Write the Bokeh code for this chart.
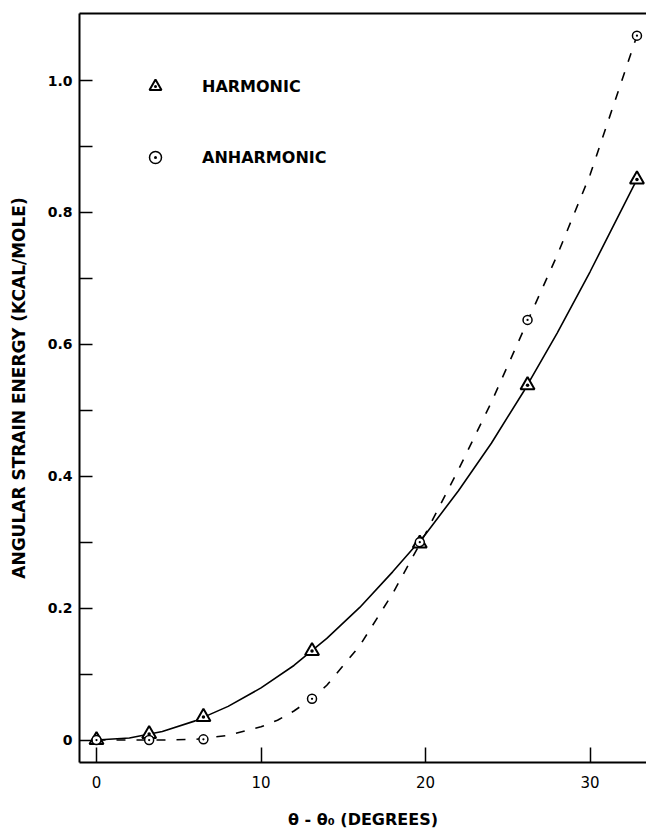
from bokeh.plotting import figure
from bokeh.models import FixedTicker, LinearAxis, Range1d, Legend, LegendItem
from bokeh.embed import file_html
from bokeh.resources import INLINE

# ---- data ----
theta = [0.0, 3.2, 6.5, 13.1, 19.65, 26.2, 32.85]
harmonic = [0.0, 0.009, 0.035, 0.135, 0.298, 0.538, 0.85]
anharmonic = [0.0, 0.0, 0.001, 0.0625, 0.30, 0.637, 1.068]

# smooth drawn curves
harm_curve_x = [0.0, 2.0, 4.0, 6.0, 8.0, 10.0, 12.0, 14.0, 16.0, 18.0, 20.0, 22.0,
                24.0, 26.0, 28.0, 30.0, 32.85]
harm_curve_y = [0.0, 0.003, 0.013, 0.029, 0.051, 0.079, 0.113, 0.154, 0.201, 0.255,
                0.312, 0.378, 0.45, 0.53, 0.617, 0.71, 0.85]
anh_curve_x = [0.0, 2.0, 4.0, 6.0, 8.0, 10.0, 11.0, 12.0, 13.1, 14.0, 16.0, 18.0, 20.0,
               22.0, 24.0, 26.2, 28.0, 30.0, 32.85]
anh_curve_y = [0.0, 0.0, 0.0, 0.001, 0.007, 0.02, 0.03, 0.044, 0.063, 0.083, 0.143, 0.222,
               0.313, 0.41, 0.512, 0.635, 0.735, 0.857, 1.068]

x_ticks = [0, 10, 20, 30]
y_major_ticks = [0, 0.2, 0.4, 0.6, 0.8, 1.0]
y_minor_ticks = [0.1, 0.3, 0.5, 0.7, 0.9]
y_tick_labels = ["0", "0.2", "0.4", "0.6", "0.8", "1.0"]

series_names = ["HARMONIC", "ANHARMONIC"]
x_title = "\u03b8 - \u03b8\u2080 (DEGREES)"
y_title = "ANGULAR STRAIN ENERGY (KCAL/MOLE)"

FONT = "DejaVu Sans"

p = figure(width=646, height=834,
           x_range=Range1d(-1.033, 33.43), y_range=Range1d(-0.0341, 1.1016),
           output_backend="svg", toolbar_location=None,
           min_border_left=79, min_border_right=0, min_border_top=13, min_border_bottom=72)
p.xgrid.visible = False
p.ygrid.visible = False
p.outline_line_color = None
p.background_fill_color = "white"
p.border_fill_color = "white"

xa = p.xaxis[0]
xa.ticker = FixedTicker(ticks=x_ticks)
xa.major_tick_in = 15
xa.major_tick_out = 0
xa.minor_tick_in = 0
xa.minor_tick_out = 0
xa.axis_line_width = 2
xa.major_tick_line_width = 1.5
xa.major_label_standoff = 13
xa.major_label_text_font = FONT
xa.major_label_text_font_size = "15px"
xa.major_label_text_color = "black"
xa.axis_line_color = "black"
xa.axis_label = x_title
xa.axis_label_standoff = 19
xa.axis_label_text_font = FONT
xa.axis_label_text_font_style = "bold"
xa.axis_label_text_font_size = "16px"
xa.axis_label_text_color = "black"

ya = p.yaxis[0]
ya.ticker = FixedTicker(ticks=y_major_ticks, minor_ticks=y_minor_ticks)
ya.major_tick_in = 13
ya.major_tick_out = 0
ya.minor_tick_in = 13
ya.minor_tick_out = 0
ya.axis_line_width = 2
ya.major_tick_line_width = 1.5
ya.minor_tick_line_width = 1.5
ya.minor_tick_line_color = "black"
ya.major_label_standoff = 7
ya.major_label_overrides = dict(zip(y_major_ticks, y_tick_labels))
ya.major_label_text_font = FONT
ya.major_label_text_font_style = "bold"
ya.major_label_text_font_size = "14px"
ya.major_label_text_color = "black"
ya.axis_label = y_title
ya.axis_label_standoff = 16
ya.axis_label_text_font = FONT
ya.axis_label_text_font_style = "bold"
ya.axis_label_text_font_size = "17px"
ya.axis_label_text_color = "black"

top = LinearAxis(ticker=FixedTicker(ticks=[]), major_label_text_font_size="0px",
                 major_tick_in=0, major_tick_out=0, minor_tick_in=0, minor_tick_out=0,
                 axis_line_width=2, major_label_standoff=0)
p.add_layout(top, "above")

p.line(harm_curve_x, harm_curve_y, line_width=1.6, line_color="black")
p.line(anh_curve_x, anh_curve_y, line_width=1.6, line_color="black", line_dash="9 11")

r1 = p.scatter(theta, harmonic, marker="triangle_dot", size=14, line_width=2,
               line_color="black", fill_color="white")
r2 = p.scatter(theta, anharmonic, marker="circle_dot", size=9, line_width=1.5,
               line_color="black", fill_color="white")

legend = Legend(items=[LegendItem(label=series_names[0], renderers=[r1]),
                       LegendItem(label=series_names[1], renderers=[r2])],
                location=(61, 590), glyph_width=30, glyph_height=30,
                label_height=30, spacing=41, label_standoff=32, padding=0, margin=0,
                border_line_color=None, background_fill_alpha=0,
                label_text_font=FONT, label_text_font_style="bold",
                label_text_font_size="16px", label_text_color="black")
p.add_layout(legend, "center")

open("out.html", "w").write(file_html(p, INLINE))
